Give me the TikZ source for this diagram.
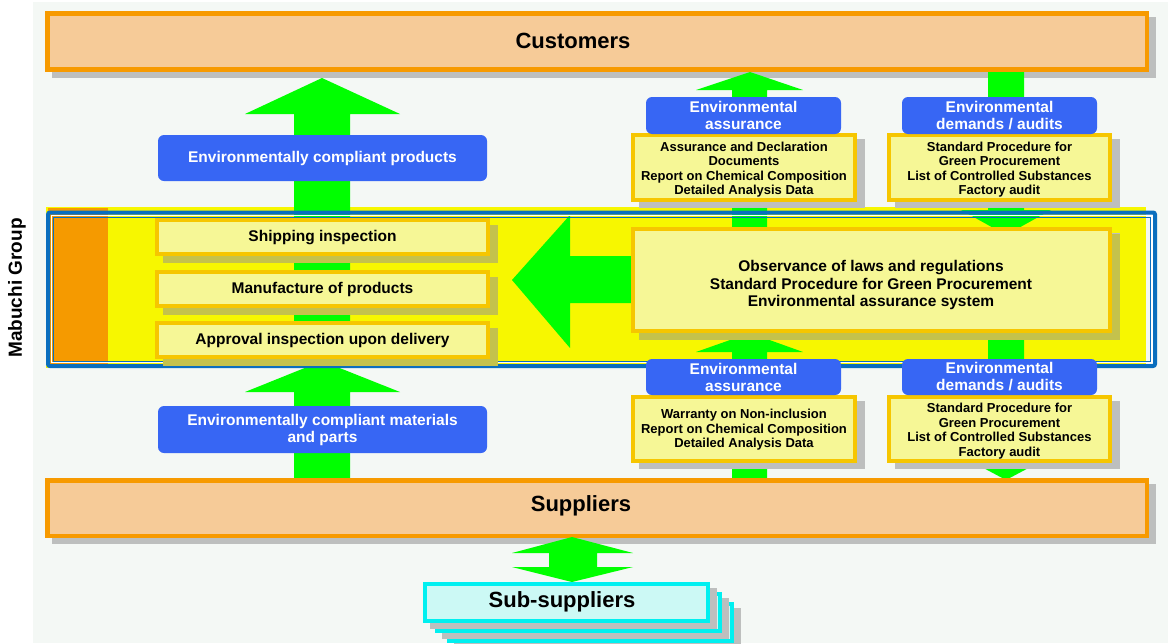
\documentclass[tikz,border=0pt]{standalone}
\usepackage{fontspec}
\setmainfont{Liberation Sans}
\usetikzlibrary{shadows}

\definecolor{bgc}{HTML}{F4F8F5}
\definecolor{orgB}{HTML}{F79A00}
\definecolor{orgF}{HTML}{F6CB98}
\definecolor{grn}{HTML}{00FF00}
\definecolor{lblue}{HTML}{3766F4}
\definecolor{band}{HTML}{F7F700}
\definecolor{docF}{HTML}{F6F796}
\definecolor{docB}{HTML}{F6C600}
\definecolor{frameB}{HTML}{0A6EBE}
\definecolor{stripO}{HTML}{F59A00}
\definecolor{cyB}{HTML}{00F0F0}
\definecolor{cyF}{HTML}{CCF9F5}
\definecolor{shGray}{HTML}{BDBFBE}
\definecolor{shOlive}{HTML}{C4C24C}

\tikzset{
  greyshadow/.style={general shadow={fill=shGray, draw=shGray, line width=#1,
      shadow xshift=7pt, shadow yshift=-6pt}},
  oliveshadow/.style={general shadow={fill=shOlive, draw=shOlive, line width=4pt,
      shadow xshift=8pt, shadow yshift=-7pt}},
  bar/.style={draw=orgB, fill=orgF, line width=4.5pt, inner sep=0pt,
      minimum width=1099.5pt, minimum height=56pt, greyshadow=4.5pt},
  bartext/.style={font=\bfseries\fontsize{22}{26}\selectfont, inner sep=0pt},
  stepbox/.style={draw=docB, fill=docF, line width=4pt, inner sep=0pt,
      minimum width=331pt, minimum height=34pt, oliveshadow,
      text height=11pt, text depth=2pt,
      font=\bfseries\fontsize{15.5}{18}\selectfont},
  docbox/.style={draw=docB, fill=docF, line width=4pt, inner sep=0pt,
      general shadow={fill=shGray, draw=shGray, line width=4pt,
      shadow xshift=8pt, shadow yshift=-6pt}},
  doctext/.style={align=center, inner sep=0pt,
      font=\bfseries\fontsize{13}{14.5}\selectfont},
  lbl/.style={fill=lblue, rounded corners=6pt, inner sep=0pt, text=white,
      align=center, font=\bfseries\fontsize{15.5}{17}\selectfont},
  subbox/.style={draw=cyB, fill=cyF, line width=4pt, inner sep=0pt,
      minimum width=283pt, minimum height=37pt, greyshadow=4pt},
  arrowfill/.style={fill=grn}
}

\begin{document}
\begin{tikzpicture}[x=1pt,y=-1pt]
\useasboundingbox (0,0) rectangle (1168,643);
\fill[bgc] (33,2) rectangle (1168,643);

% customers bar
\node[bar] (cust) at (597,41.5) {};
\node[bartext] (custtxt) at (573,41) {Customers};

% group band
\fill[band] (46,207) rectangle (1146,368);
\fill[stripO] (48,208) rectangle (108,368);

% green block arrows
\fill[arrowfill] (322,78) -- (400,114) -- (350,114) -- (350,340) -- (294,340)
  -- (294,114) -- (245,114) -- cycle;
\fill[arrowfill] (322,361) -- (400,392) -- (350,392) -- (350,484) -- (294,484)
  -- (294,392) -- (245,392) -- cycle;
\fill[arrowfill] (750,72) -- (803,90) -- (767,90) -- (767,232) -- (732,232)
  -- (732,90) -- (696,90) -- cycle;
\fill[arrowfill] (750,333) -- (803,352) -- (767,352) -- (767,484) -- (732,484)
  -- (732,352) -- (696,352) -- cycle;
\fill[arrowfill] (988,72) -- (1024,72) -- (1024,210) -- (1051,210) -- (1006,235)
  -- (961,210) -- (988,210) -- cycle;
\fill[arrowfill] (988,330) -- (1024,330) -- (1024,456) -- (1051,456) -- (1006,480)
  -- (961,456) -- (988,456) -- cycle;
\fill[arrowfill] (512,280) -- (570,215) -- (570,256) -- (634,256) -- (634,303)
  -- (570,303) -- (570,348) -- cycle;

% double frame round the group
\draw[frameB, line width=4pt, rounded corners=2pt] (48,212.5) rectangle (1155,366);
\draw[white, line width=1.2pt] (51.5,215.5) rectangle (1152,362.5);
\draw[frameB, line width=1pt] (53,217) rectangle (1150.5,361);

% process steps
\node[stepbox] (ship) at (322.5,237) {Shipping inspection};
\node[stepbox] (manu) at (322.5,289) {Manufacture of products};
\node[stepbox] (appr) at (322.5,340) {Approval inspection upon delivery};

% rules box
\node[docbox, oliveshadow, minimum width=477pt, minimum height=102pt] (rules) at (871.5,280) {};
\node[align=center, inner sep=0pt, font=\bfseries\fontsize{15.5}{17.5}\selectfont]
  (rulestxt) at (871,285) {Observance of laws and regulations\\
  Standard Procedure for Green Procurement\\Environmental assurance system};

% document boxes, customer side
\node[docbox, minimum width=222pt, minimum height=65pt] (docA) at (744,167.5) {};
\node[doctext] at (744,169.5) {Assurance and Declaration\\Documents\\
  Report on Chemical Composition\\Detailed Analysis Data};
\node[docbox, minimum width=221pt, minimum height=65pt] (docB) at (999.5,167.5) {};
\node[doctext] at (999.5,169.5) {Standard Procedure for\\Green Procurement\\
  List of Controlled Substances\\Factory audit};

% document boxes, supplier side
\node[docbox, minimum width=222pt, minimum height=64pt] (docC) at (744,429) {};
\node[doctext] at (744,430) {Warranty on Non-inclusion\\
  Report on Chemical Composition\\Detailed Analysis Data};
\node[docbox, minimum width=221pt, minimum height=64pt] (docD) at (999.5,429) {};
\node[doctext] at (999.5,431) {Standard Procedure for\\Green Procurement\\
  List of Controlled Substances\\Factory audit};

% blue labels
\node[lbl, minimum width=329pt, minimum height=46pt] (prod) at (322.5,158)
  {Environmentally compliant products};
\node[lbl, minimum width=329pt, minimum height=47pt] (mat) at (322.5,429.5)
  {Environmentally compliant materials\\and parts};
\node[lbl, minimum width=195pt, minimum height=37pt] (assA) at (743.5,115.5)
  {Environmental\\assurance};
\node[lbl, minimum width=195pt, minimum height=37pt] (demA) at (999.5,115.5)
  {Environmental\\demands / audits};
\node[lbl, minimum width=195pt, minimum height=36pt] (assB) at (743.5,377)
  {Environmental\\assurance};
\node[lbl, minimum width=195pt, minimum height=36pt] (demB) at (999.5,377)
  {Environmental\\demands / audits};

% suppliers bar
\node[bar, minimum height=55.5pt] (supp) at (597,508) {};
\node[bartext] (supptxt) at (581,506) {Suppliers};

% two-way arrow to sub-suppliers
\fill[arrowfill] (572,537) -- (633,553) -- (597,553) -- (597,567) -- (633,567)
  -- (572,582) -- (512,567) -- (549,567) -- (549,553) -- (512,553) -- cycle;

% stack of sub-supplier cards
\node[subbox] (subC) at (590.5,622.5) {};
\node[subbox] (subB) at (578.5,612.5) {};
\node[subbox] (subA) at (566.5,602.5) {};
\node[bartext] (subtxt) at (562,602) {Sub-suppliers};

% group caption
\node[rotate=90, inner sep=0pt, font=\bfseries\fontsize{19}{22}\selectfont]
  (grp) at (17,288) {Mabuchi Group};
\end{tikzpicture}
\end{document}
